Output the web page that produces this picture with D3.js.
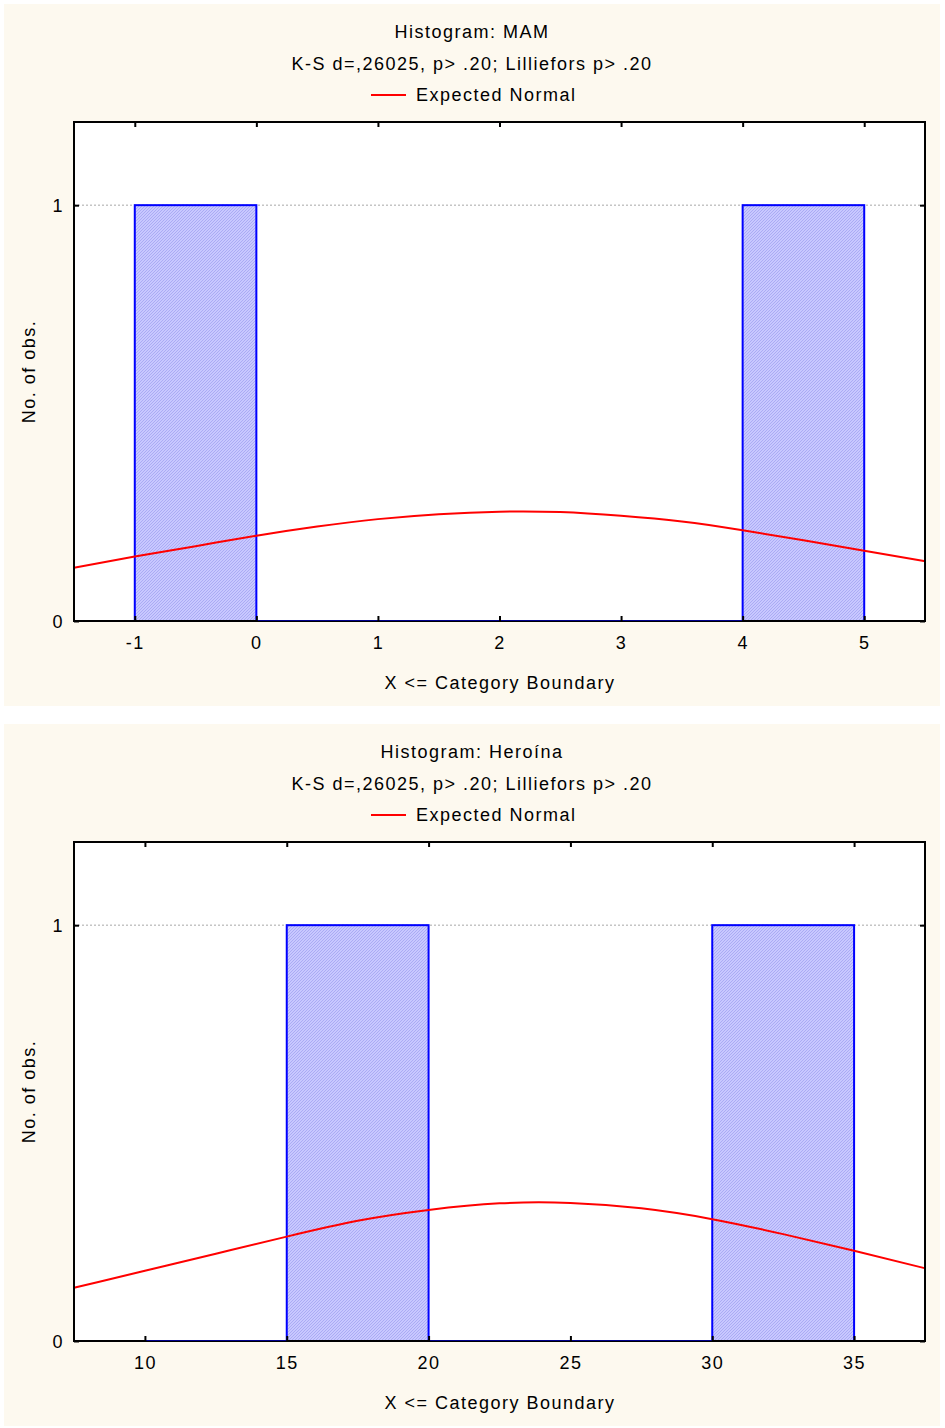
<!DOCTYPE html>
<html>
<head>
<meta charset="utf-8">
<script src="https://cdn.jsdelivr.net/npm/d3@7/dist/d3.min.js"></script>
<style>
  html, body { margin: 0; padding: 0; background: #ffffff; }
  svg { display: block; }
  text { font-family: "Liberation Sans", Arial, sans-serif; font-size: 18px; fill: #000; letter-spacing: 1.5px; }
</style>
</head>
<body>
<svg id="chart" width="945" height="1428"></svg>
<script>
// ---------- Data ----------
// Panel 1: MAM
const mamTitle = "Histogram: MAM";
const mamStats = "K-S d=,26025, p> .20; Lilliefors p> .20";
const mamBinEdges = [-1, 0, 1, 2, 3, 4, 5];
const mamCounts = [1, 0, 0, 0, 0, 1];
const mamXDomain = [-1.5, 5.5];
const mamXTicks = [-1, 0, 1, 2, 3, 4, 5];
const mamCurveX = [-1.5, -1, -0.5, 0, 0.5, 1, 1.5, 2, 2.5, 3, 3.5, 4, 4.5, 5, 5.5];
const mamCurveY = [0.128, 0.155, 0.180, 0.205, 0.227, 0.245, 0.257, 0.263, 0.262, 0.253, 0.239, 0.218, 0.194, 0.169, 0.144];

// Panel 2: Heroína
const heroTitle = "Histogram: Heroína";
const heroStats = "K-S d=,26025, p> .20; Lilliefors p> .20";
const heroBinEdges = [10, 15, 20, 25, 30, 35];
const heroCounts = [0, 1, 0, 0, 1];
const heroXDomain = [7.5, 37.5];
const heroXTicks = [10, 15, 20, 25, 30, 35];
const heroCurveX = [7.5, 10, 12.5, 15, 17.5, 20, 22.5, 25, 27.5, 30, 32.5, 35, 37.5];
const heroCurveY = [0.128, 0.169, 0.210, 0.251, 0.289, 0.315, 0.331, 0.332, 0.319, 0.293, 0.257, 0.217, 0.175];

// Shared
const yDomain = [0, 1.2];
const yTicks = [0, 1];
const legendLabel = "Expected Normal";
const xAxisTitle = "X <= Category Boundary";
const yAxisTitle = "No. of obs.";

// ---------- Drawing ----------
const svg = d3.select("#chart");

const defs = svg.append("defs");
const pat = defs.append("pattern")
  .attr("id", "hatch")
  .attr("patternUnits", "userSpaceOnUse")
  .attr("width", 3).attr("height", 3);
pat.append("rect").attr("width", 3).attr("height", 3).attr("fill", "#c8c8ff");
pat.append("path").attr("d", "M0,3 L3,0").attr("stroke", "#ababf4").attr("stroke-width", 1);

function drawPanel(offsetY, title, stats, binEdges, counts, xDomain, xTicks, curveX, curveY) {
  const g = svg.append("g").attr("transform", `translate(0,${offsetY})`);

  // Panel background
  g.append("rect")
    .attr("x", 4).attr("y", 4).attr("width", 936).attr("height", 702)
    .attr("fill", "#fdf9ef");

  const left = 74, right = 925, top = 122, bottom = 621;
  const x = d3.scaleLinear().domain(xDomain).range([left, right]);
  const y = d3.scaleLinear().domain(yDomain).range([bottom, top]);

  // Plot area
  g.append("rect")
    .attr("x", left).attr("y", top).attr("width", right - left).attr("height", bottom - top)
    .attr("fill", "#ffffff");

  // Titles
  g.append("text").attr("x", 472).attr("y", 38).attr("text-anchor", "middle").text(title);
  g.append("text").attr("x", 472).attr("y", 70).attr("text-anchor", "middle").text(stats);

  // Legend
  g.append("line")
    .attr("x1", 371).attr("x2", 406).attr("y1", 95).attr("y2", 95)
    .attr("stroke", "#ff0000").attr("stroke-width", 2);
  g.append("text").attr("x", 416).attr("y", 101).text(legendLabel);

  // Gridlines (non-zero ticks)
  g.selectAll(".grid")
    .data(yTicks.filter(d => d !== 0))
    .enter().append("line")
    .attr("x1", left).attr("x2", right)
    .attr("y1", d => y(d)).attr("y2", d => y(d))
    .attr("stroke", "#a8a8a8").attr("stroke-width", 1)
    .attr("stroke-dasharray", "2,2");

  // Bars
  const bins = counts.map((c, i) => ({ x0: binEdges[i], x1: binEdges[i + 1], c }));
  g.selectAll(".bar")
    .data(bins.filter(b => b.c > 0))
    .enter().append("rect")
    .attr("x", d => x(d.x0))
    .attr("y", d => y(d.c))
    .attr("width", d => x(d.x1) - x(d.x0))
    .attr("height", d => y(0) - y(d.c))
    .attr("fill", "url(#hatch)")
    .attr("stroke", "#0000ff").attr("stroke-width", 2);

  // Normal curve
  const pts = curveX.map((v, i) => [v, curveY[i]]);
  const line = d3.line().x(d => x(d[0])).y(d => y(d[1])).curve(d3.curveNatural);
  g.append("path")
    .datum(pts)
    .attr("d", line)
    .attr("fill", "none")
    .attr("stroke", "#ff0000").attr("stroke-width", 2);

  // Frame
  g.append("rect")
    .attr("x", left).attr("y", top).attr("width", right - left).attr("height", bottom - top)
    .attr("fill", "none").attr("stroke", "#000").attr("stroke-width", 2);

  // Zero-count bins along baseline
  g.selectAll(".zbar")
    .data(bins.filter(b => b.c === 0))
    .enter().append("line")
    .attr("x1", d => x(d.x0)).attr("x2", d => x(d.x1))
    .attr("y1", y(0) - 0.5).attr("y2", y(0) - 0.5)
    .attr("stroke", "#0000ff").attr("stroke-width", 1).attr("stroke-opacity", 0.55);

  // Axes with inward ticks
  const fmt = d => String(d);
  const bottomAxis = d3.axisBottom(x).tickValues(xTicks).tickSize(-5).tickPadding(15).tickFormat(fmt);
  const gb = g.append("g").attr("transform", `translate(0,${bottom})`).call(bottomAxis);
  const topAxis = d3.axisTop(x).tickValues(xTicks).tickSize(-5).tickFormat("");
  const gt = g.append("g").attr("transform", `translate(0,${top})`).call(topAxis);
  const leftAxis = d3.axisLeft(y).tickValues(yTicks).tickSize(-5).tickPadding(15).tickFormat(fmt);
  const gl = g.append("g").attr("transform", `translate(${left},0)`).call(leftAxis);
  const rightAxis = d3.axisRight(y).tickValues(yTicks).tickSize(-5).tickFormat("");
  const gr = g.append("g").attr("transform", `translate(${right},0)`).call(rightAxis);

  [gb, gt, gl, gr].forEach(a => {
    a.select(".domain").remove();
    a.selectAll(".tick line").attr("stroke", "#000").attr("stroke-width", 2);
    a.selectAll(".tick text")
      .attr("fill", "#000")
      .style("font-family", '"Liberation Sans", Arial, sans-serif')
      .style("font-size", "18px");
  });
  gb.selectAll(".tick text").attr("dy", "0.71em").attr("y", 15);
  gl.selectAll(".tick text").attr("x", -10).attr("dy", "0.36em");

  // Axis titles
  g.append("text").attr("x", 500).attr("y", 689).attr("text-anchor", "middle").text(xAxisTitle);
  g.append("text")
    .attr("transform", `translate(35,${(top + bottom) / 2}) rotate(-90)`)
    .attr("text-anchor", "middle")
    .text(yAxisTitle);
}

drawPanel(0, mamTitle, mamStats, mamBinEdges, mamCounts, mamXDomain, mamXTicks, mamCurveX, mamCurveY);
drawPanel(720, heroTitle, heroStats, heroBinEdges, heroCounts, heroXDomain, heroXTicks, heroCurveX, heroCurveY);
</script>
</body>
</html>
